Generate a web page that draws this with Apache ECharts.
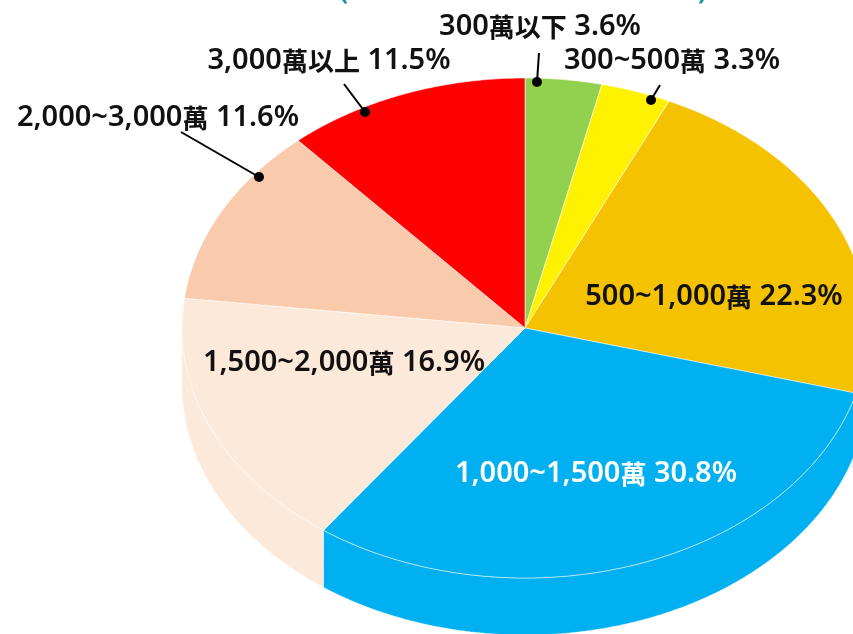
<!DOCTYPE html>
<html>
<head>
<meta charset="utf-8">
<style>
  html, body { margin: 0; padding: 0; background: #fff; }
  #main { width: 853px; height: 634px; }
</style>
<script src="https://cdn.jsdelivr.net/npm/echarts@6/dist/echarts.min.js"></script>
</head>
<body>
<div id="main"></div>
<script>
const categories = ['300萬以下', '300~500萬', '500~1,000萬', '1,000~1,500萬', '1,500~2,000萬', '2,000~3,000萬', '3,000萬以上'];
const shares = [3.6, 3.3, 22.3, 30.8, 16.9, 11.6, 11.5];
const colors = ['#92D050', '#FFF200', '#F5C200', '#00B0F0', '#FDE9D9', '#F9CBAC', '#FF0000'];
const labelColors = ['#111', '#111', '#111', '#fff', '#111', '#111', '#111'];
// label centres
const labelPos = [[540, 27], [672, 61], [714, 297], [596, 474], [344, 363], [158, 118], [329, 61]];
// leader lines, [from x, from y, dot x, dot y]
const leaders = [[539, 53, 537, 82], [660, 85, 651, 100], null, null, null, [181, 132, 259, 177], [344, 84, 365, 112]];

// the pie is a tilted ellipse, the plain pie series can only do circles
const cx = 525, cy = 328, rx = 343, ry = 250, depth = 57;
const total = shares.reduce((a, b) => a + b, 0);

function pt(deg, dy) {
  const a = deg * Math.PI / 180;
  return [cx + rx * Math.sin(a), cy - ry * Math.cos(a) + (dy || 0)];
}

function arc(from, to, dy) {
  const pts = [];
  const n = Math.max(2, Math.ceil((to - from) * 2));
  for (let i = 0; i <= n; i++) pts.push(pt(from + (to - from) * i / n, dy));
  return pts;
}

// digits run wider than the CJK in the reference, so two sizes
function richLabel(str) {
  return str.split(/([^\x00-\x7f]+)/).filter(s => s).map(s =>
    /[^\x00-\x7f]/.test(s) ? '{c|' + s + '}' : '{n|' + s + '}'
  ).join('');
}

function renderSlice(params, api) {
  const i = params.dataIndex;
  const before = shares.slice(0, i).reduce((a, b) => a + b, 0);
  const start = before / total * 360;
  const end = start + api.value(0) / total * 360;
  const children = [];

  // side wall, only the front half of the rim shows
  const from = Math.max(start, 90), to = Math.min(end, 270);
  if (from < to) {
    children.push({
      type: 'polygon',
      shape: { points: arc(from, to, 0).concat(arc(from, to, depth).reverse()) },
      style: { fill: colors[i], stroke: 'rgba(255,255,255,0.35)', lineWidth: 1 }
    });
  }
  children.push({
    type: 'polygon',
    shape: { points: [[cx, cy]].concat(arc(start, end, 0)) },
    style: { fill: colors[i], stroke: 'rgba(255,255,255,0.55)', lineWidth: 1 }
  });

  if (leaders[i]) {
    const l = leaders[i];
    children.push({
      type: 'line',
      shape: { x1: l[0], y1: l[1], x2: l[2], y2: l[3] },
      style: { stroke: '#000', lineWidth: 2 }
    });
    children.push({
      type: 'circle',
      shape: { cx: l[2], cy: l[3], r: 5 },
      style: { fill: '#000' }
    });
  }
  children.push({
    type: 'text',
    z2: 10,
    style: {
      text: richLabel(categories[i] + ' ' + shares[i].toFixed(1) + '%'),
      x: labelPos[i][0],
      y: labelPos[i][1],
      align: 'center',
      verticalAlign: 'middle',
      fill: labelColors[i],
      rich: {
        n: { fill: labelColors[i], font: '600 29px "Noto Sans", sans-serif' },
        c: { fill: labelColors[i], font: 'bold 26px "Noto Sans CJK TC", sans-serif' }
      }
    }
  });
  return { type: 'group', children: children };
}

const chart = echarts.init(document.getElementById('main'));
chart.setOption({
  animation: false,
  backgroundColor: '#fff',
  // the subtitle is cut off by the top edge, only its brackets can be read
  graphic: [
    { type: 'text', style: { text: '(', x: 340, y: 5, verticalAlign: 'bottom', fill: '#1F8FB0', font: 'bold 24px "Noto Sans", sans-serif' } },
    { type: 'text', style: { text: ')', x: 698, y: 5, verticalAlign: 'bottom', fill: '#1F8FB0', font: 'bold 24px "Noto Sans", sans-serif' } }
  ],
  series: [{
    type: 'custom',
    coordinateSystem: 'none',
    renderItem: renderSlice,
    data: shares
  }]
});
</script>
</body>
</html>
